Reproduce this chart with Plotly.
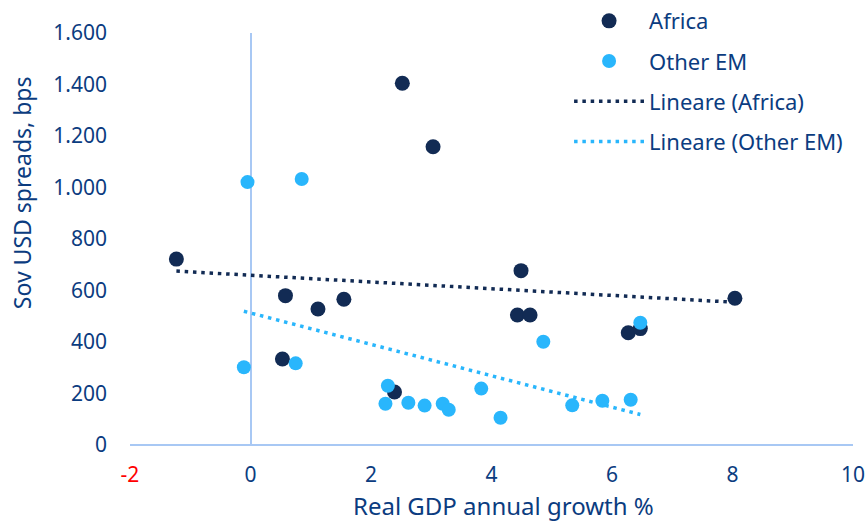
import numpy as np
import plotly.graph_objects as go

# Data
africa_growth = [-1.23, 0.53, 0.58, 1.12, 1.55, 2.52, 3.03, 2.39, 4.49, 4.43, 4.64, 6.27, 6.47, 8.04]
africa_spread = [722, 334, 580, 528, 566, 1405, 1158, 206, 677, 505, 505, 436, 452, 570]

otherem_growth = [-0.05, 0.85, -0.11, 0.75, 2.28, 2.24, 2.62, 2.89, 3.19, 3.29, 3.83, 4.15, 4.86, 5.34, 5.84, 6.31, 6.47]
otherem_spread = [1021, 1033, 302, 317, 230, 160, 164, 153, 160, 137, 219, 106, 401, 154, 172, 176, 475]

x_tickvals = [-2, 0, 2, 4, 6, 8, 10]
x_ticktext = ['<span style="color:#FF0000">-2</span>', '0', '2', '4', '6', '8', '10']
y_tickvals = [0, 200, 400, 600, 800, 1000, 1200, 1400, 1600]
y_ticktext = ['0', '200', '400', '600', '800', '1.000', '1.200', '1.400', '1.600']

DARK = "#122B54"
LIGHT = "#29B6FC"
TEXT = "#0B3C80"
AXIS = "#A8C8F4"
FONT = "Noto Sans"


def trend(xs, ys):
    m, b = np.polyfit(xs, ys, 1)
    xr = np.array([min(xs), max(xs)])
    return xr, m * xr + b


fig = go.Figure()
fig.add_trace(go.Scatter(x=africa_growth, y=africa_spread, mode="markers", name="Africa",
                         marker=dict(color=DARK, size=15), legendgroup="a"))
fig.add_trace(go.Scatter(x=otherem_growth, y=otherem_spread, mode="markers", name="Other EM",
                         marker=dict(color=LIGHT, size=14), legendgroup="b"))
tx, ty = trend(africa_growth, africa_spread)
fig.add_trace(go.Scatter(x=tx, y=ty, mode="lines", name="Lineare (Africa)",
                         line=dict(color=DARK, width=3.5, dash="3.5px,4.8px"), legendgroup="c"))
tx, ty = trend(otherem_growth, otherem_spread)
fig.add_trace(go.Scatter(x=tx, y=ty, mode="lines", name="Lineare (Other EM)",
                         line=dict(color=LIGHT, width=3.5, dash="3.5px,4.8px"), legendgroup="d"))

fig.update_layout(
    width=866, height=521,
    margin=dict(l=130, r=13, t=33, b=76, autoexpand=False),
    plot_bgcolor="white", paper_bgcolor="white",
    font=dict(family=FONT, color=TEXT, size=21),
    showlegend=True,
    legend=dict(x=0.6073, xanchor="left", y=1.08, yanchor="top",
                font=dict(size=22, color=TEXT), itemwidth=70,
                traceorder="grouped", tracegroupgap=8.6, bgcolor="rgba(0,0,0,0)"),
    xaxis=dict(range=[-2, 10], tickvals=x_tickvals, ticktext=x_ticktext,
               showgrid=False, zeroline=True, zerolinecolor=AXIS, zerolinewidth=2,
               showline=False, ticks="", ticklabelstandoff=15),
    yaxis=dict(range=[0, 1600], tickvals=y_tickvals, ticktext=y_ticktext,
               showgrid=False, zeroline=True, zerolinecolor=AXIS, zerolinewidth=2,
               showline=False, ticks="", ticklabelstandoff=22),
    annotations=[
        dict(text="Sov USD spreads, bps", textangle=-90, xref="paper", yref="paper",
             x=-0.149, y=0.612, xanchor="center", yanchor="middle",
             showarrow=False, font=dict(size=23, color=TEXT)),
        dict(text="Real GDP annual growth %", xref="paper", yref="paper",
             x=0.516, y=-0.146, xanchor="center", yanchor="middle",
             showarrow=False, font=dict(size=24, color=TEXT)),
    ],
)

fig.write_html("out.html")
